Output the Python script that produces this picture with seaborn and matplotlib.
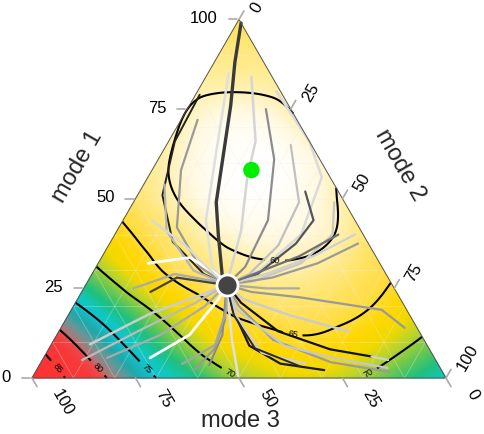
import numpy as np
import pandas as pd
import matplotlib
matplotlib.use("Agg")
import matplotlib.pyplot as plt
import matplotlib.tri as mtri
from matplotlib.colors import LinearSegmentedColormap
import seaborn as sns

# background field, 10% grid
# one row per mode 1 value (0..100), entries for mode 2 = 0, 10, ... 100 - mode 1
field_rows = [
    [90, 83.9, 79.1, 75, 72.6, 70, 68.7, 68.7, 70.1, 72.1, 74],
    [82.5, 77.7, 73.8, 70.8, 67.8, 66.4, 65.5, 66.3, 68.3, 70.5],
    [75.6, 72.3, 69.2, 66.1, 64.1, 63.2, 63.5, 64.6, 67.1],
    [70.5, 67.2, 64.0, 62.3, 61.0, 61.0, 62.5, 64.3],
    [66.3, 63.5, 61.0, 58.2, 57.8, 59.1, 62.5],
    [63.0, 60.0, 56.4, 55.5, 56.9, 60.6],
    [61.2, 57.4, 55.3, 55.5, 58.8],
    [60.2, 57.1, 56.7, 59.6],
    [60.5, 60.1, 60.8],
    [62.0, 62.2],
    [64.0],
]
contour_levels = [60, 65, 70, 75, 80, 85]
# where the contour labels sit (mode 1, mode 2)
label_spots = [(2.8, 4.9), (2.8, 14.5), (2.8, 26.4), (1.1, 47.2),
               (1.4, 80.5), (11.7, 57), (32.8, 42.3)]

color_stops = [(55, "#ffffff"), (58, "#fff9e0"), (61, "#ffeea0"), (64, "#ffdf50"),
               (66.5, "#ffd700"), (68, "#f2d800"), (69.5, "#b8d430"), (71, "#6cc850"),
               (72.5, "#20c080"), (74, "#10c8c0"), (75, "#15c2cc"), (76.5, "#20a8aa"),
               (78, "#689898"), (79.5, "#b07878"), (80.5, "#f04848"), (82, "#f83838"),
               (90, "#ff3030")]

green_pt = (58, 24)
sink_pt = (26, 34)

ticks = [0, 25, 50, 75, 100]

# trajectories (mode 1, mode 2), all running into the grey point
trajectories = {
    "U1": [(99, 1), (88, 5), (76, 10), (49, 20), (40, 25), (28, 32)],
    "U2": [(85, 5), (63, 13), (44, 20), (31, 28)],
    "U3": [(79, 1), (66, 1.5), (51, 6), (38, 15), (29, 27)],
    "U4": [(72, 4), (58, 7), (42, 14), (31, 25)],
    "U5": [(54, 5), (41, 12), (30, 24)],
    "U6": [(84, 11), (66, 21), (56, 24), (41, 30)],
    "U7": [(75, 19), (61, 28), (44, 35), (31, 36)],
    "U8": [(80, 19), (66, 34), (56, 42), (40, 45), (30, 40)],
    "U9": [(65, 30), (49, 40), (37, 41), (29, 38)],
    "U10": [(52, 40), (44, 46), (37.5, 45), (29, 40)],
    "U11": [(49, 48.5), (40, 52.6), (32, 49), (27, 40)],
    "U12": [(37.5, 60), (32, 53), (28, 44)],
    "U13": [(40, 58), (34, 51), (29, 42)],
    "U14": [(40, 54), (34, 47.6)],
    "R1": [(25, 52), (25, 44)],
    "R2": [(14, 83), (19, 75), (22.5, 53.5), (24, 41)],
    "R3": [(13, 70), (17.5, 53.5), (22, 40)],
    "R4": [(6, 79), (8, 68), (13, 53), (21, 40)],
    "R5": [(1.7, 85.5), (4.4, 70), (10.6, 53), (20, 40)],
    "R5b": [(2.8, 84.5), (5.6, 70), (9, 56.5), (19, 40)],
    "R6": [(2.2, 69.5), (4, 58), (9, 48), (19, 39)],
    "R7": [(4, 64), (7, 52), (17.5, 40.5)],
    "D1": [(0.6, 49.5), (10.6, 43), (20, 37.5)],
    "D2": [(2.2, 38), (8, 40), (16, 38.6)],
    "D3": [(3.3, 63), (8.3, 49.7), (17.5, 40)],
    "D4": [(3.6, 41), (12, 40)],
    "L1": [(32, 12), (33.6, 21.4), (29, 30)],
    "L2": [(25, 12), (29, 20), (27, 30.6)],
    "L3": [(24, 16.6), (28, 21), (26.4, 31)],
    "L4": [(9.4, 9.3), (18, 19.6), (23, 29)],
    "L5": [(5, 9.6), (13.3, 19.4), (21, 29)],
    "L6": [(5.6, 15.3), (12, 25), (20, 31.7)],
    "L7": [(5.6, 25.7), (12, 32), (21.7, 34)],
    "L8": [(3.9, 34.3), (9.2, 39.6), (18.9, 37.5)],
    "L9": [(44, 7), (37, 18.5), (28.6, 30)],
}
r4_tail = [(5, 83.5), (6, 79)]

traj_colors = {
    "U1": "#3a3a3a", "U2": "#dedede", "U3": "#222222", "U4": "#9a9a9a", "U5": "#b5b5b5",
    "U6": "#d5d5d5", "U7": "#8c8c8c", "U8": "#dadada", "U9": "#c0c0c0", "U10": "#555555",
    "U11": "#c8c8c8", "U12": "#9a9a9a", "U13": "#cfcfcf", "U14": "#707070",
    "R1": "#aaaaaa", "R2": "#999999", "R3": "#cccccc", "R4": "#111111", "R5": "#9a9a9a",
    "R5b": "#c8c8c8", "R6": "#1a1a1a", "R7": "#d0d0d0",
    "D1": "#e0e0e0", "D2": "#9a9a9a", "D3": "#2a2a2a", "D4": "#888888",
    "L1": "#ffffff", "L2": "#aaaaaa", "L3": "#444444", "L4": "#cccccc", "L5": "#bbbbbb",
    "L6": "#aaaaaa", "L7": "#ffffff", "L8": "#a5a5a5", "L9": "#d8d8d8",
}
traj_widths = {k: 1.6 for k in traj_colors}
traj_widths.update({"U1": 2.4, "U2": 1.8, "U3": 1.4, "U6": 1.8, "U8": 1.8, "R3": 1.8,
                    "D1": 1.8, "D3": 1.4, "D4": 1.4, "L1": 2.0, "L4": 1.8, "L7": 2.0})


def tern_xy(m1, m2):
    m1 = np.asarray(m1, dtype=float)
    m2 = np.asarray(m2, dtype=float)
    return m2 + m1 / 2, m1 * np.sqrt(3) / 2


PX = 1 / 4.14  # one pixel in data units

sns.set_theme(style="white")
plt.rcParams["font.family"] = ["Liberation Sans", "DejaVu Sans"]

fig = plt.figure(figsize=(4.84, 4.34), dpi=100)
ax = fig.add_axes([0, 0, 1, 1])
ax.set_xlim(-32 * PX, 452 * PX)
ax.set_ylim(-56 * PX, 378 * PX)
ax.axis("off")

# field on a triangular mesh, smoothed with the cubic interpolator
m1n, m2n, zn, idx = [], [], [], {}
for i, row in enumerate(field_rows):
    for j, v in enumerate(row):
        idx[(i, j)] = len(zn)
        m1n.append(10 * i)
        m2n.append(10 * j)
        zn.append(v)
tris = []
for i in range(10):
    for j in range(10 - i):
        tris.append([idx[(i, j)], idx[(i, j + 1)], idx[(i + 1, j)]])
        if i + j <= 8:
            tris.append([idx[(i, j + 1)], idx[(i + 1, j + 1)], idx[(i + 1, j)]])
xn, yn = tern_xy(m1n, m2n)
tri = mtri.Triangulation(xn, yn, np.array(tris))
zn = np.array(zn)
interp = mtri.CubicTriInterpolator(tri, zn, kind="min_E")
tri_f, z_f = mtri.UniformTriRefiner(tri).refine_field(zn, triinterpolator=interp, subdiv=4)

cmap = LinearSegmentedColormap.from_list(
    "payoff", [((v - 55) / 35, c) for v, c in color_stops])
ax.tripcolor(tri_f, z_f, shading="gouraud", cmap=cmap, vmin=55, vmax=90, zorder=1)

# faint internal grid
for k in range(10, 100, 10):
    for a, b in [((k, 0), (k, 100 - k)), ((0, k), (100 - k, k)), ((0, 100 - k), (100 - k, 0))]:
        gx, gy = tern_xy([a[0], b[0]], [a[1], b[1]])
        ax.plot(gx, gy, color="#eeeeee", alpha=0.35, lw=0.6, zorder=1.5)

cs = ax.tricontour(tri_f, z_f, levels=contour_levels, colors="black",
                   linewidths=1.5, zorder=3)
lx, ly = tern_xy([p[0] for p in label_spots], [p[1] for p in label_spots])
ax.clabel(cs, contour_levels, inline=True, fontsize=6.5, fmt="%d",
          manual=list(zip(lx, ly)))

# trajectories
rows = []
for name, pts in trajectories.items():
    for m1, m2 in pts + [sink_pt]:
        rows.append((name, m1, m2))
traj_df = pd.DataFrame(rows, columns=["traj", "mode1", "mode2"])
traj_df["X"], traj_df["Y"] = tern_xy(traj_df["mode1"], traj_df["mode2"])
sns.lineplot(data=traj_df, x="X", y="Y", hue="traj", size="traj",
             palette=traj_colors, sizes=traj_widths, sort=False, estimator=None,
             errorbar=None, legend=False, ax=ax, zorder=4, solid_capstyle="round")
tx, ty = tern_xy([p[0] for p in r4_tail], [p[1] for p in r4_tail])
ax.plot(tx, ty, color="#d0d0d0", lw=1.6, zorder=4, solid_capstyle="round")

gx, gy = tern_xy([green_pt[0]], [green_pt[1]])
sns.scatterplot(x=gx, y=gy, s=140, color="#00ee00", edgecolor="none", ax=ax, zorder=6)
sx, sy = tern_xy([sink_pt[0]], [sink_pt[1]])
sns.scatterplot(x=sx, y=sy, s=230, color="#444444", edgecolor="white",
                linewidth=2, ax=ax, zorder=6)

# triangle outline
vx, vy = tern_xy([0, 0, 100, 0], [0, 100, 0, 0])
ax.plot(vx, vy, color="#555555", lw=0.7, zorder=5)

tick_kw = dict(color="#aaaaaa", lw=1.2, zorder=5)
txt_kw = dict(fontsize=12, color="black")
d_up = np.array([0.5, np.sqrt(3) / 2])
d_dn = np.array([0.5, -np.sqrt(3) / 2])
for v in ticks:
    # mode 1, left side
    bx, by = tern_xy(v, 0)
    ax.plot([bx - 2 * PX, bx - 10 * PX], [by, by], **tick_kw)
    ax.text(bx - 21 * PX, by + 1 * PX, str(v), ha="right", va="center", **txt_kw)
    # mode 2, right side
    bx, by = tern_xy(100 - v, v)
    ax.plot([bx, bx + 10 * PX * d_up[0]], [by, by + 10 * PX * d_up[1]], **tick_kw)
    ax.text(bx + 15 * PX, by + 8 * PX, str(v), rotation=60, rotation_mode="anchor",
            ha="left", va="center", **txt_kw)
    # mode 3, bottom
    bx, by = tern_xy(0, 100 - v)
    ax.plot([bx, bx + 10 * PX * d_dn[0]], [by, by + 10 * PX * d_dn[1]], **tick_kw)
    ax.text(bx + 24 * PX, by - 13 * PX, str(v), rotation=-60, rotation_mode="anchor",
            ha="left", va="center", **txt_kw)

ax.text(46 * PX, 211 * PX, "mode 1", rotation=60, ha="center", va="center", fontsize=17)
ax.text(368 * PX, 213 * PX, "mode 2", rotation=-60, ha="center", va="center", fontsize=17)
ax.text(208 * PX, -43 * PX, "mode 3", ha="center", va="center", fontsize=17)

fig.savefig("out.png", dpi=100)
